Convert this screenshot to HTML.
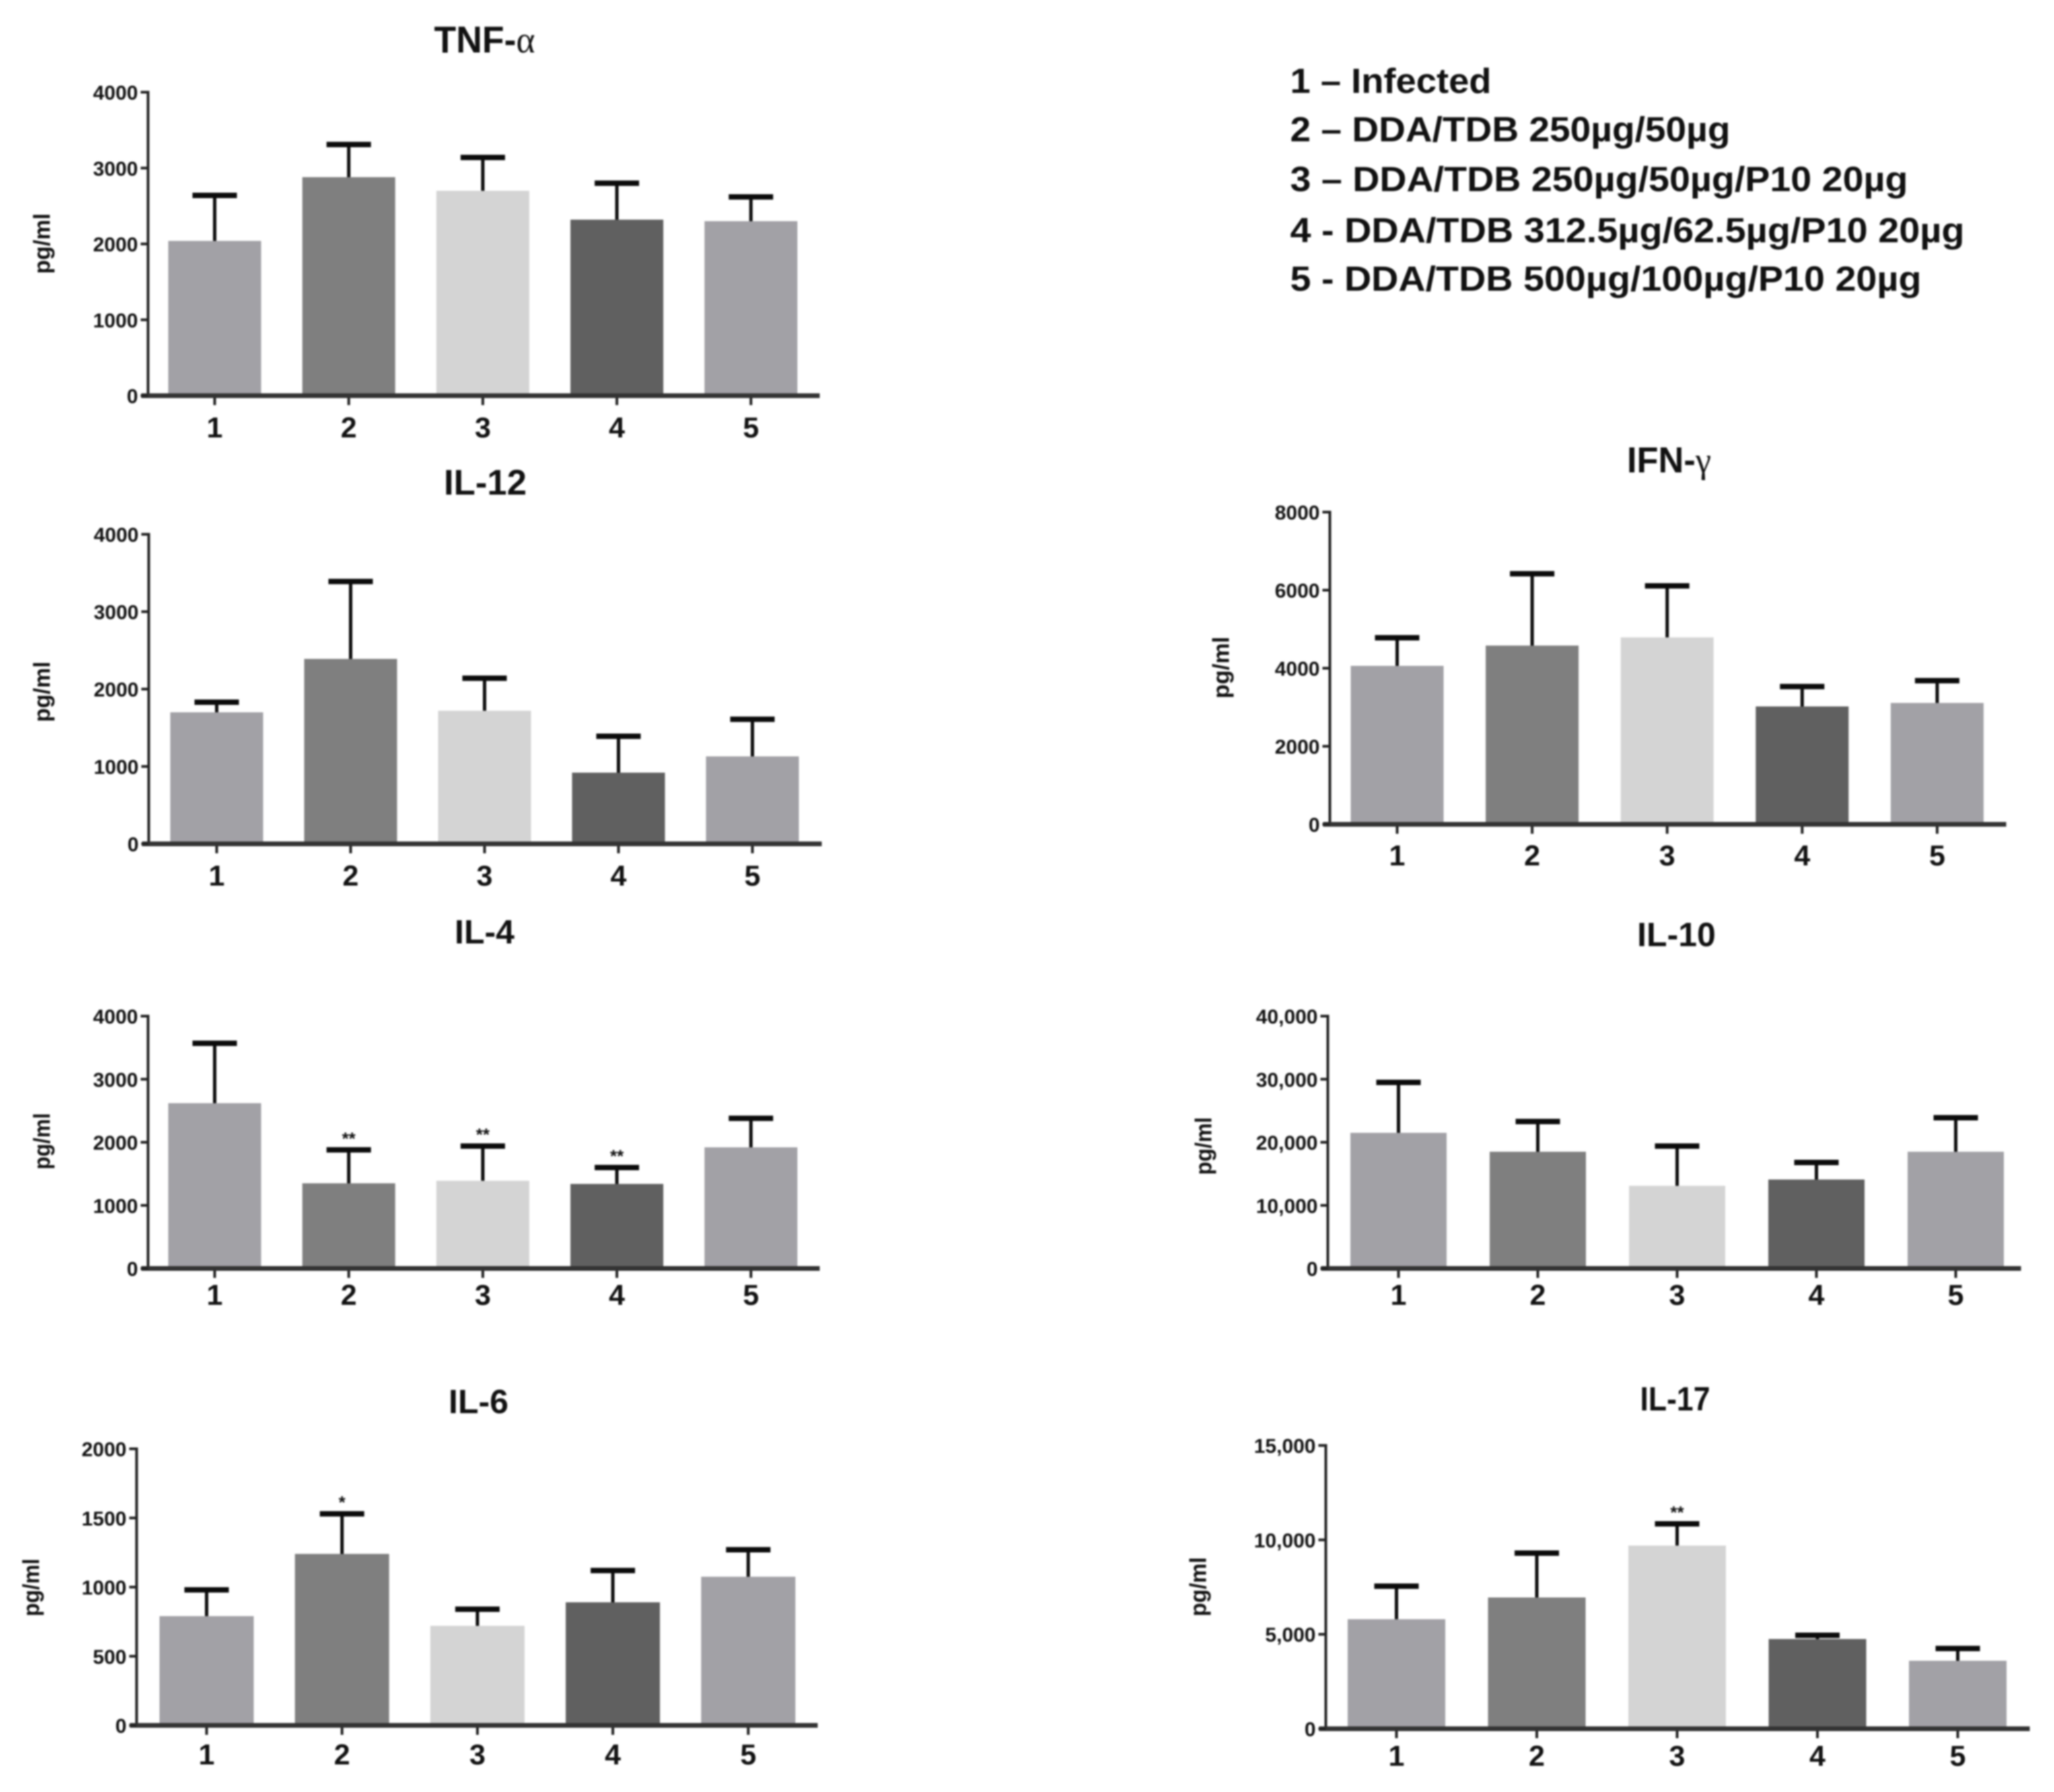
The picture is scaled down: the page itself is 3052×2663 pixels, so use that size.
<!DOCTYPE html>
<html lang="en">
<head>
<meta charset="utf-8">
<title>Cytokine levels by treatment group</title>
<style>
  html, body { margin: 0; padding: 0; background: #fff; width: 3052px; height: 2663px; overflow: hidden; }
  svg { display: block; filter: blur(1.2px); }
  text { font-family: "Liberation Sans", sans-serif; font-weight: bold; fill: #111; }
  .title { font-size: 50px; text-anchor: middle; }
  .serif { font-family: "Liberation Serif", serif; font-weight: normal; }
  .ylab { font-size: 34px; text-anchor: middle; }
  .legend { font-size: 52px; }
</style>
</head>
<body>
<svg id="fig" xmlns="http://www.w3.org/2000/svg" width="3052" height="2663" viewBox="0 0 3052 2663">
  <rect x="0" y="0" width="3052" height="2663" fill="#fff"/>

  <text class="title" style="font-size:56px" x="720" y="78" textLength="150" lengthAdjust="spacingAndGlyphs">TNF-<tspan class="serif">α</tspan></text>
  <text class="title" style="font-size:53px" x="721" y="735" textLength="123" lengthAdjust="spacingAndGlyphs">IL-12</text>
  <text class="title" x="720" y="1402">IL-4</text>
  <text class="title" x="711" y="2100">IL-6</text>
  <text class="title" style="font-size:54px" x="2480" y="702" textLength="125" lengthAdjust="spacingAndGlyphs">IFN-<tspan class="serif">γ</tspan></text>
  <text class="title" x="2491" y="1406">IL-10</text>
  <text class="title" x="2489" y="2096" textLength="104" lengthAdjust="spacingAndGlyphs">IL-17</text>

  <text class="ylab" transform="translate(74,362) rotate(-90)" textLength="90" lengthAdjust="spacingAndGlyphs">pg/ml</text>
  <text class="ylab" transform="translate(74,1028) rotate(-90)" textLength="90" lengthAdjust="spacingAndGlyphs">pg/ml</text>
  <text class="ylab" transform="translate(74,1696) rotate(-90)" textLength="84" lengthAdjust="spacingAndGlyphs">pg/ml</text>
  <text class="ylab" transform="translate(58,2359) rotate(-90)" textLength="86" lengthAdjust="spacingAndGlyphs">pg/ml</text>
  <text class="ylab" transform="translate(1826,992) rotate(-90)" textLength="92" lengthAdjust="spacingAndGlyphs">pg/ml</text>
  <text class="ylab" transform="translate(1800,1703) rotate(-90)" textLength="86" lengthAdjust="spacingAndGlyphs">pg/ml</text>
  <text class="ylab" transform="translate(1792,2358) rotate(-90)" textLength="88" lengthAdjust="spacingAndGlyphs">pg/ml</text>

  <g>
    <text class="legend" x="1917" y="138" textLength="299" lengthAdjust="spacingAndGlyphs">1 – Infected</text>
    <text class="legend" x="1917" y="210" textLength="654" lengthAdjust="spacingAndGlyphs">2 – DDA/TDB 250µg/50µg</text>
    <text class="legend" x="1917" y="284" textLength="918" lengthAdjust="spacingAndGlyphs">3 – DDA/TDB 250µg/50µg/P10 20µg</text>
    <text class="legend" x="1917" y="360" textLength="1002" lengthAdjust="spacingAndGlyphs">4 - DDA/TDB 312.5µg/62.5µg/P10 20µg</text>
    <text class="legend" x="1917" y="432" textLength="938" lengthAdjust="spacingAndGlyphs">5 - DDA/TDB 500µg/100µg/P10 20µg</text>
  </g>
</svg>
<script>
// Data
const categories = ["1", "2", "3", "4", "5"];

const tnfMeans = [2040, 2880, 2700, 2320, 2300];
const tnfUpper = [2640, 3310, 3140, 2800, 2620];
const tnfTicks = [0, 1000, 2000, 3000, 4000];
const tnfTickLabels = ["0", "1000", "2000", "3000", "4000"];
const tnfStars = ["", "", "", "", ""];

const il12Means = [1700, 2390, 1720, 920, 1130];
const il12Upper = [1830, 3390, 2140, 1390, 1610];
const il12Ticks = [0, 1000, 2000, 3000, 4000];
const il12TickLabels = ["0", "1000", "2000", "3000", "4000"];
const il12Stars = ["", "", "", "", ""];

const il4Means = [2620, 1350, 1390, 1340, 1920];
const il4Upper = [3570, 1880, 1940, 1600, 2380];
const il4Ticks = [0, 1000, 2000, 3000, 4000];
const il4TickLabels = ["0", "1000", "2000", "3000", "4000"];
const il4Stars = ["", "**", "**", "**", ""];

const il6Means = [790, 1240, 720, 890, 1075];
const il6Upper = [980, 1530, 840, 1120, 1270];
const il6Ticks = [0, 500, 1000, 1500, 2000];
const il6TickLabels = ["0", "500", "1000", "1500", "2000"];
const il6Stars = ["", "*", "", "", ""];

const ifnMeans = [4060, 4580, 4790, 3020, 3110];
const ifnUpper = [4780, 6420, 6110, 3530, 3680];
const ifnTicks = [0, 2000, 4000, 6000, 8000];
const ifnTickLabels = ["0", "2000", "4000", "6000", "8000"];
const ifnStars = ["", "", "", "", ""];

const il10Means = [21500, 18500, 13100, 14100, 18500];
const il10Upper = [29500, 23300, 19400, 16800, 23900];
const il10Ticks = [0, 10000, 20000, 30000, 40000];
const il10TickLabels = ["0", "10,000", "20,000", "30,000", "40,000"];
const il10Stars = ["", "", "", "", ""];

const il17Means = [5800, 6950, 9700, 4750, 3600];
const il17Upper = [7550, 9300, 10850, 4950, 4250];
const il17Ticks = [0, 5000, 10000, 15000];
const il17TickLabels = ["0", "5,000", "10,000", "15,000"];
const il17Stars = ["", "", "**", "", ""];

const barColors = ["#a2a1a6", "#7f7f7f", "#d4d4d4", "#606060", "#a2a1a6"];

// Panel geometry
function panel(key, means, upper, ticks, tickLabels, stars, box) {
  return { key: key, means: means, upper: upper, ticks: ticks, tickLabels: tickLabels, stars: stars, box: box };
}
const panels = [
  panel("tnf-alpha", tnfMeans, tnfUpper, tnfTicks, tnfTickLabels, tnfStars, { axisX: 220, endX: 1218, top: 137, bottom: 588, first: 319, step: 199.2, barW: 138, labelDy: 62 }),
  panel("il-12", il12Means, il12Upper, il12Ticks, il12TickLabels, il12Stars, { axisX: 221, endX: 1221, top: 794, bottom: 1254, first: 322, step: 199, barW: 138, labelDy: 62 }),
  panel("il-4", il4Means, il4Upper, il4Ticks, il4TickLabels, il4Stars, { axisX: 220, endX: 1218, top: 1510, bottom: 1885, first: 319, step: 199.2, barW: 138, labelDy: 54 }),
  panel("il-6", il6Means, il6Upper, il6Ticks, il6TickLabels, il6Stars, { axisX: 203, endX: 1215, top: 2153, bottom: 2564, first: 307, step: 201.2, barW: 140, labelDy: 58 }),
  panel("ifn-gamma", ifnMeans, ifnUpper, ifnTicks, ifnTickLabels, ifnStars, { axisX: 1976, endX: 2981, top: 761, bottom: 1225, first: 2076, step: 200.6, barW: 138, labelDy: 61 }),
  panel("il-10", il10Means, il10Upper, il10Ticks, il10TickLabels, il10Stars, { axisX: 1973, endX: 3003, top: 1510, bottom: 1885, first: 2078, step: 207, barW: 143, labelDy: 54 }),
  panel("il-17", il17Means, il17Upper, il17Ticks, il17TickLabels, il17Stars, { axisX: 1970, endX: 3016, top: 2148, bottom: 2569, first: 2075, step: 208.5, barW: 145, labelDy: 55 })
];

const SVG_NS = "http://www.w3.org/2000/svg";
const fig = document.getElementById("fig");

function shape(parent, tag, props) {
  const node = document.createElementNS(SVG_NS, tag);
  Object.keys(props).forEach(function (k) { node.setAttribute(k, props[k]); });
  parent.appendChild(node);
  return node;
}

panels.forEach(function (p) {
  const b = p.box;
  const maxTick = p.ticks[p.ticks.length - 1];
  const yScale = function (v) { return b.bottom - (v / maxTick) * (b.bottom - b.top); };
  const xScale = function (i) { return b.first + i * b.step; };

  const g = shape(fig, "g", {});
  
  

  categories.forEach(function (cat, i) {
    const cx = xScale(i);
    const yMean = yScale(p.means[i]);
    const yUp = yScale(p.upper[i]);

    const stem = shape(g, "line", { x1: cx, x2: cx, y1: yMean + 4, y2: yUp, stroke: "#0b0b0b", "stroke-width": 5 });
    
    

    const cap = shape(g, "line", { x1: cx - 33, x2: cx + 33, y1: yUp, y2: yUp, stroke: "#0b0b0b", "stroke-width": 8 });
    
    

    const bar = shape(g, "rect", { x: cx - b.barW / 2, y: yMean, width: b.barW, height: b.bottom - yMean, fill: barColors[i] });
    
    

    const tick = shape(g, "line", { x1: cx, x2: cx, y1: b.bottom, y2: b.bottom + 14, stroke: "#222", "stroke-width": 4 });
    
    

    const label = shape(g, "text", { x: cx, y: b.bottom + b.labelDy, "text-anchor": "middle", "font-size": 43 });
    label.textContent = cat;
    
    

    if (p.stars[i]) {
      const star = shape(g, "text", { x: cx, y: yUp - 8, "text-anchor": "middle", "font-size": 26 });
      star.textContent = p.stars[i];
      
      
    }
  });

  const yAxis = shape(g, "line", { x1: b.axisX, x2: b.axisX, y1: b.top - 2, y2: b.bottom, stroke: "#222", "stroke-width": 4 });
  
  

  const xAxis = shape(g, "line", { x1: b.axisX - 10, x2: b.endX, y1: b.bottom, y2: b.bottom, stroke: "#333", "stroke-width": 7 });
  
  

  p.ticks.forEach(function (t, i) {
    const y = yScale(t);
    const tick = shape(g, "line", { x1: b.axisX - 11, x2: b.axisX, y1: y, y2: y, stroke: "#222", "stroke-width": 4 });
    
    

    const label = shape(g, "text", { x: b.axisX - 15, y: y + 11, "text-anchor": "end", "font-size": 30 });
    label.textContent = p.tickLabels[i];
    
    
  });
});
</script>
</body>
</html>
